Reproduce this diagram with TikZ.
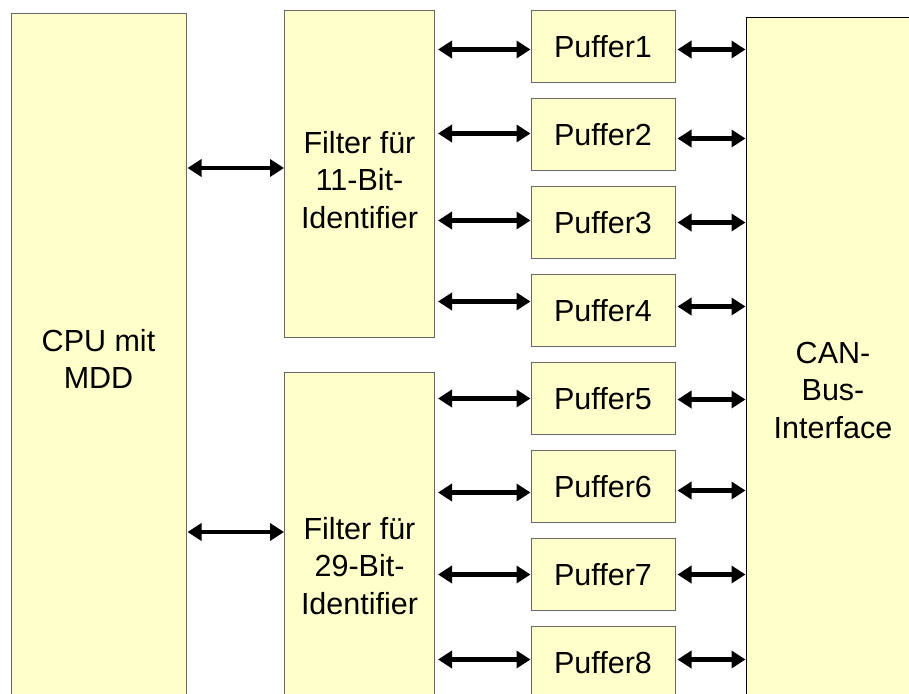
\documentclass[tikz,border=0pt]{standalone}
\usepackage{fontspec}
\setmainfont{Liberation Sans}
\usetikzlibrary{arrows.meta, positioning}
\definecolor{boxyellow}{RGB}{255,255,204}

\begin{document}
\begin{tikzpicture}[x=1pt,y=-1pt,
  box/.style={draw=black!60, fill=boxyellow, line width=1pt, inner sep=0pt,
    align=center, font=\fontsize{30.5}{37.5}\selectfont},
  puffer/.style={box, minimum width=144pt, minimum height=72pt},
  link/.style={{Triangle[length=14pt,width=17pt]}-{Triangle[length=14pt,width=17pt]},
    line width=4.3pt}]
\useasboundingbox (0,0) rectangle (909,693);
\clip (0,0) rectangle (909,693);

\node[box, minimum width=175pt, minimum height=690pt] (cpu) at (98.5,359) {CPU mit\\MDD};
\node[box, minimum width=150pt, minimum height=326pt] (f11) at (359.5,174) {\raisebox{-9pt}[\height][\depth]{\begin{tabular}{@{}c@{}}Filter für\\11-Bit-\\Identifier\end{tabular}}};
\node[box, minimum width=150pt, minimum height=388pt] (f29) at (359.5,566) {Filter für\\29-Bit-\\Identifier};
\foreach \i in {1,...,8}
  \node[puffer] (p\i) at (603,{46.5+88*(\i-1)}) {Puffer\i};
\node[box, draw=black, minimum width=174pt, minimum height=744pt] (can) at (833,390) {CAN-\\Bus-\\Interface};

% CPU <-> Filter
\draw[link, shorten <=1pt] ([yshift=6]f11.west -| cpu.east) -- ([yshift=6]f11.west);
\draw[link, shorten <=1pt] ([yshift=34]f29.west -| cpu.east) -- ([yshift=34]f29.west);

% Filter <-> Puffer <-> CAN
\foreach \i/\l/\r in {1/-3/-3, 2/1/-4, 3/2/0, 4/9/4, 5/0/-1, 6/-6/-4, 7/0/0, 8/3/3} {
  \draw[link, shorten <=3pt] ([yshift=\l]p\i.west -| f11.east) -- ([yshift=\l]p\i.west);
  \draw[link, shorten <=2pt] ([yshift=\r]p\i.east) -- ([yshift=\r]p\i.east -| can.west);
}
\end{tikzpicture}
\end{document}
